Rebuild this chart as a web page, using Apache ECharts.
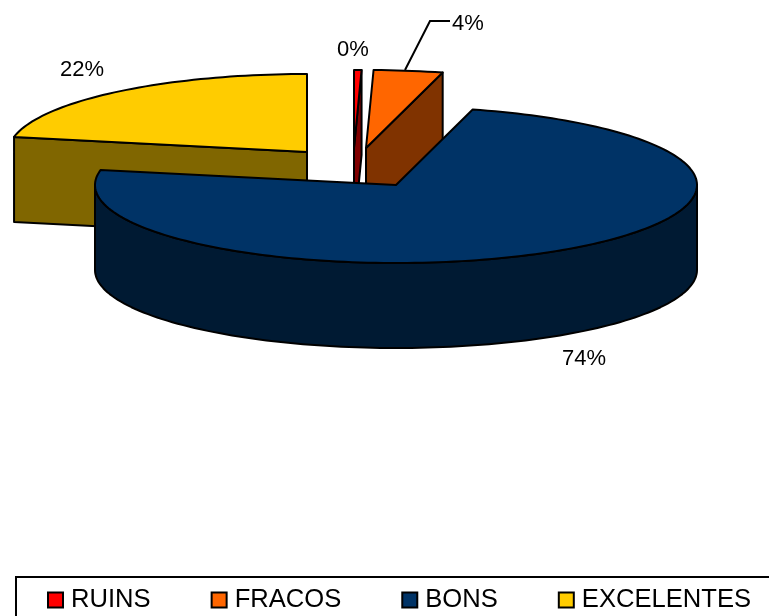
<!DOCTYPE html>
<html><head><meta charset="utf-8">
<style>html,body{margin:0;padding:0;background:#fff}#c{width:769px;height:616px}</style>
<script src="https://cdn.jsdelivr.net/npm/echarts@6/dist/echarts.min.js"></script>
</head><body><div id="c"></div>
<script>
const categories = ['RUINS', 'FRACOS', 'BONS', 'EXCELENTES'];
const values = [0.4, 3.7, 74, 21.9];
const topColors = ['#FF0000', '#FF6600', '#003366', '#FFCC00'];
const wallColors = ['#800000', '#803300', '#001A33', '#806600'];

const CX = 396, CY = 185, RX = 301, RY = 78, DEPTH = 85;
const FONT = '22px "Liberation Sans", Arial, sans-serif';
const total = values.reduce((a, b) => a + b, 0);
const slicePlacement = [
  { dx: -42, dy: -37, rx: 1, lx: 353, ly: 50 },
  { dx: -30, dy: -37, rx: 1, lx: 468, ly: 24, leader: [[405, 70], [430, 21], [450, 21]] },
  { dx: 0, dy: 0, rx: 1, lx: 584, ly: 359 },
  { dx: -89, dy: -33, rx: 0.992, lx: 82, ly: 70 }
];

function rimPoint(ax, ay, deg, rx) {
  const r = deg * Math.PI / 180;
  return [ax + RX * rx * Math.sin(r), ay - RY * Math.cos(r)];
}
function arcPoints(ax, ay, from, to, rx) {
  const n = Math.max(2, Math.ceil(Math.abs(to - from) / 1.5));
  const out = [];
  for (let i = 0; i <= n; i++) out.push(rimPoint(ax, ay, from + (to - from) * i / n, rx));
  return out;
}
function extrude(top) {
  return top.concat(top.slice().reverse().map(p => [p[0], p[1] + DEPTH]));
}
function poly(points, fill) {
  return {
    type: 'polygon', shape: { points },
    style: { fill, stroke: '#000', lineWidth: 2, lineJoin: 'round' }
  };
}
function renderSlice(index) {
  return function (params, api) {
    const v = api.value(0);
    const before = values.slice(0, index).reduce((a, b) => a + b, 0);
    const a0 = before / total * 360, a1 = a0 + v / total * 360;
    const p = slicePlacement[index];
    const ax = CX + p.dx, ay = CY + p.dy;
    const apex = [ax, ay];
    const children = [];
    const s0 = Math.sin(a0 * Math.PI / 180), s1 = Math.sin(a1 * Math.PI / 180);
    if (s0 < -1e-6) children.push(poly(extrude([apex, rimPoint(ax, ay, a0, p.rx)]), wallColors[index]));
    if (s1 > 1e-6) children.push(poly(extrude([rimPoint(ax, ay, a1, p.rx), apex]), wallColors[index]));
    const w0 = Math.max(a0, 90), w1 = Math.min(a1, 270);
    if (w1 > w0) children.push(poly(extrude(arcPoints(ax, ay, w0, w1, p.rx)), wallColors[index]));
    children.push(poly([apex].concat(arcPoints(ax, ay, a0, a1, p.rx)), topColors[index]));
    if (p.leader) {
      children.push({
        type: 'polyline', shape: { points: p.leader },
        style: { fill: 'none', stroke: '#000', lineWidth: 2 }
      });
    }
    children.push({
      type: 'text',
      style: {
        text: Math.round(v / total * 100) + '%',
        x: p.lx, y: p.ly, font: FONT, fill: '#000',
        align: 'center', verticalAlign: 'middle'
      }
    });
    return { type: 'group', children };
  };
}
// painter's order: back slices first, the large front slice last
const drawOrder = [3, 0, 1, 2];
const chart = echarts.init(document.getElementById('c'), null, { renderer: 'canvas' });
chart.setOption({
  animation: false,
  backgroundColor: '#fff',
  legend: {
    data: categories,
    left: 16, top: 577,
    width: 1000,
    padding: [10, 60, 12, 31],
    orient: 'horizontal',
    itemGap: 60, itemWidth: 15, itemHeight: 15,
    icon: 'rect',
    borderColor: '#000', borderWidth: 2,
    itemStyle: { borderColor: '#000', borderWidth: 2 },
    selectedMode: false,
    textStyle: { fontSize: 25.6, color: '#000', fontFamily: '"Liberation Sans", Arial, sans-serif', padding: [0, 0, 0, 3] }
  },
  series: drawOrder.map(i => ({
    type: 'custom',
    name: categories[i],
    coordinateSystem: 'none',
    silent: true,
    itemStyle: { color: topColors[i] },
    data: [[values[i]]],
    encode: { value: 0 },
    renderItem: renderSlice(i)
  }))
});
</script></body></html>
